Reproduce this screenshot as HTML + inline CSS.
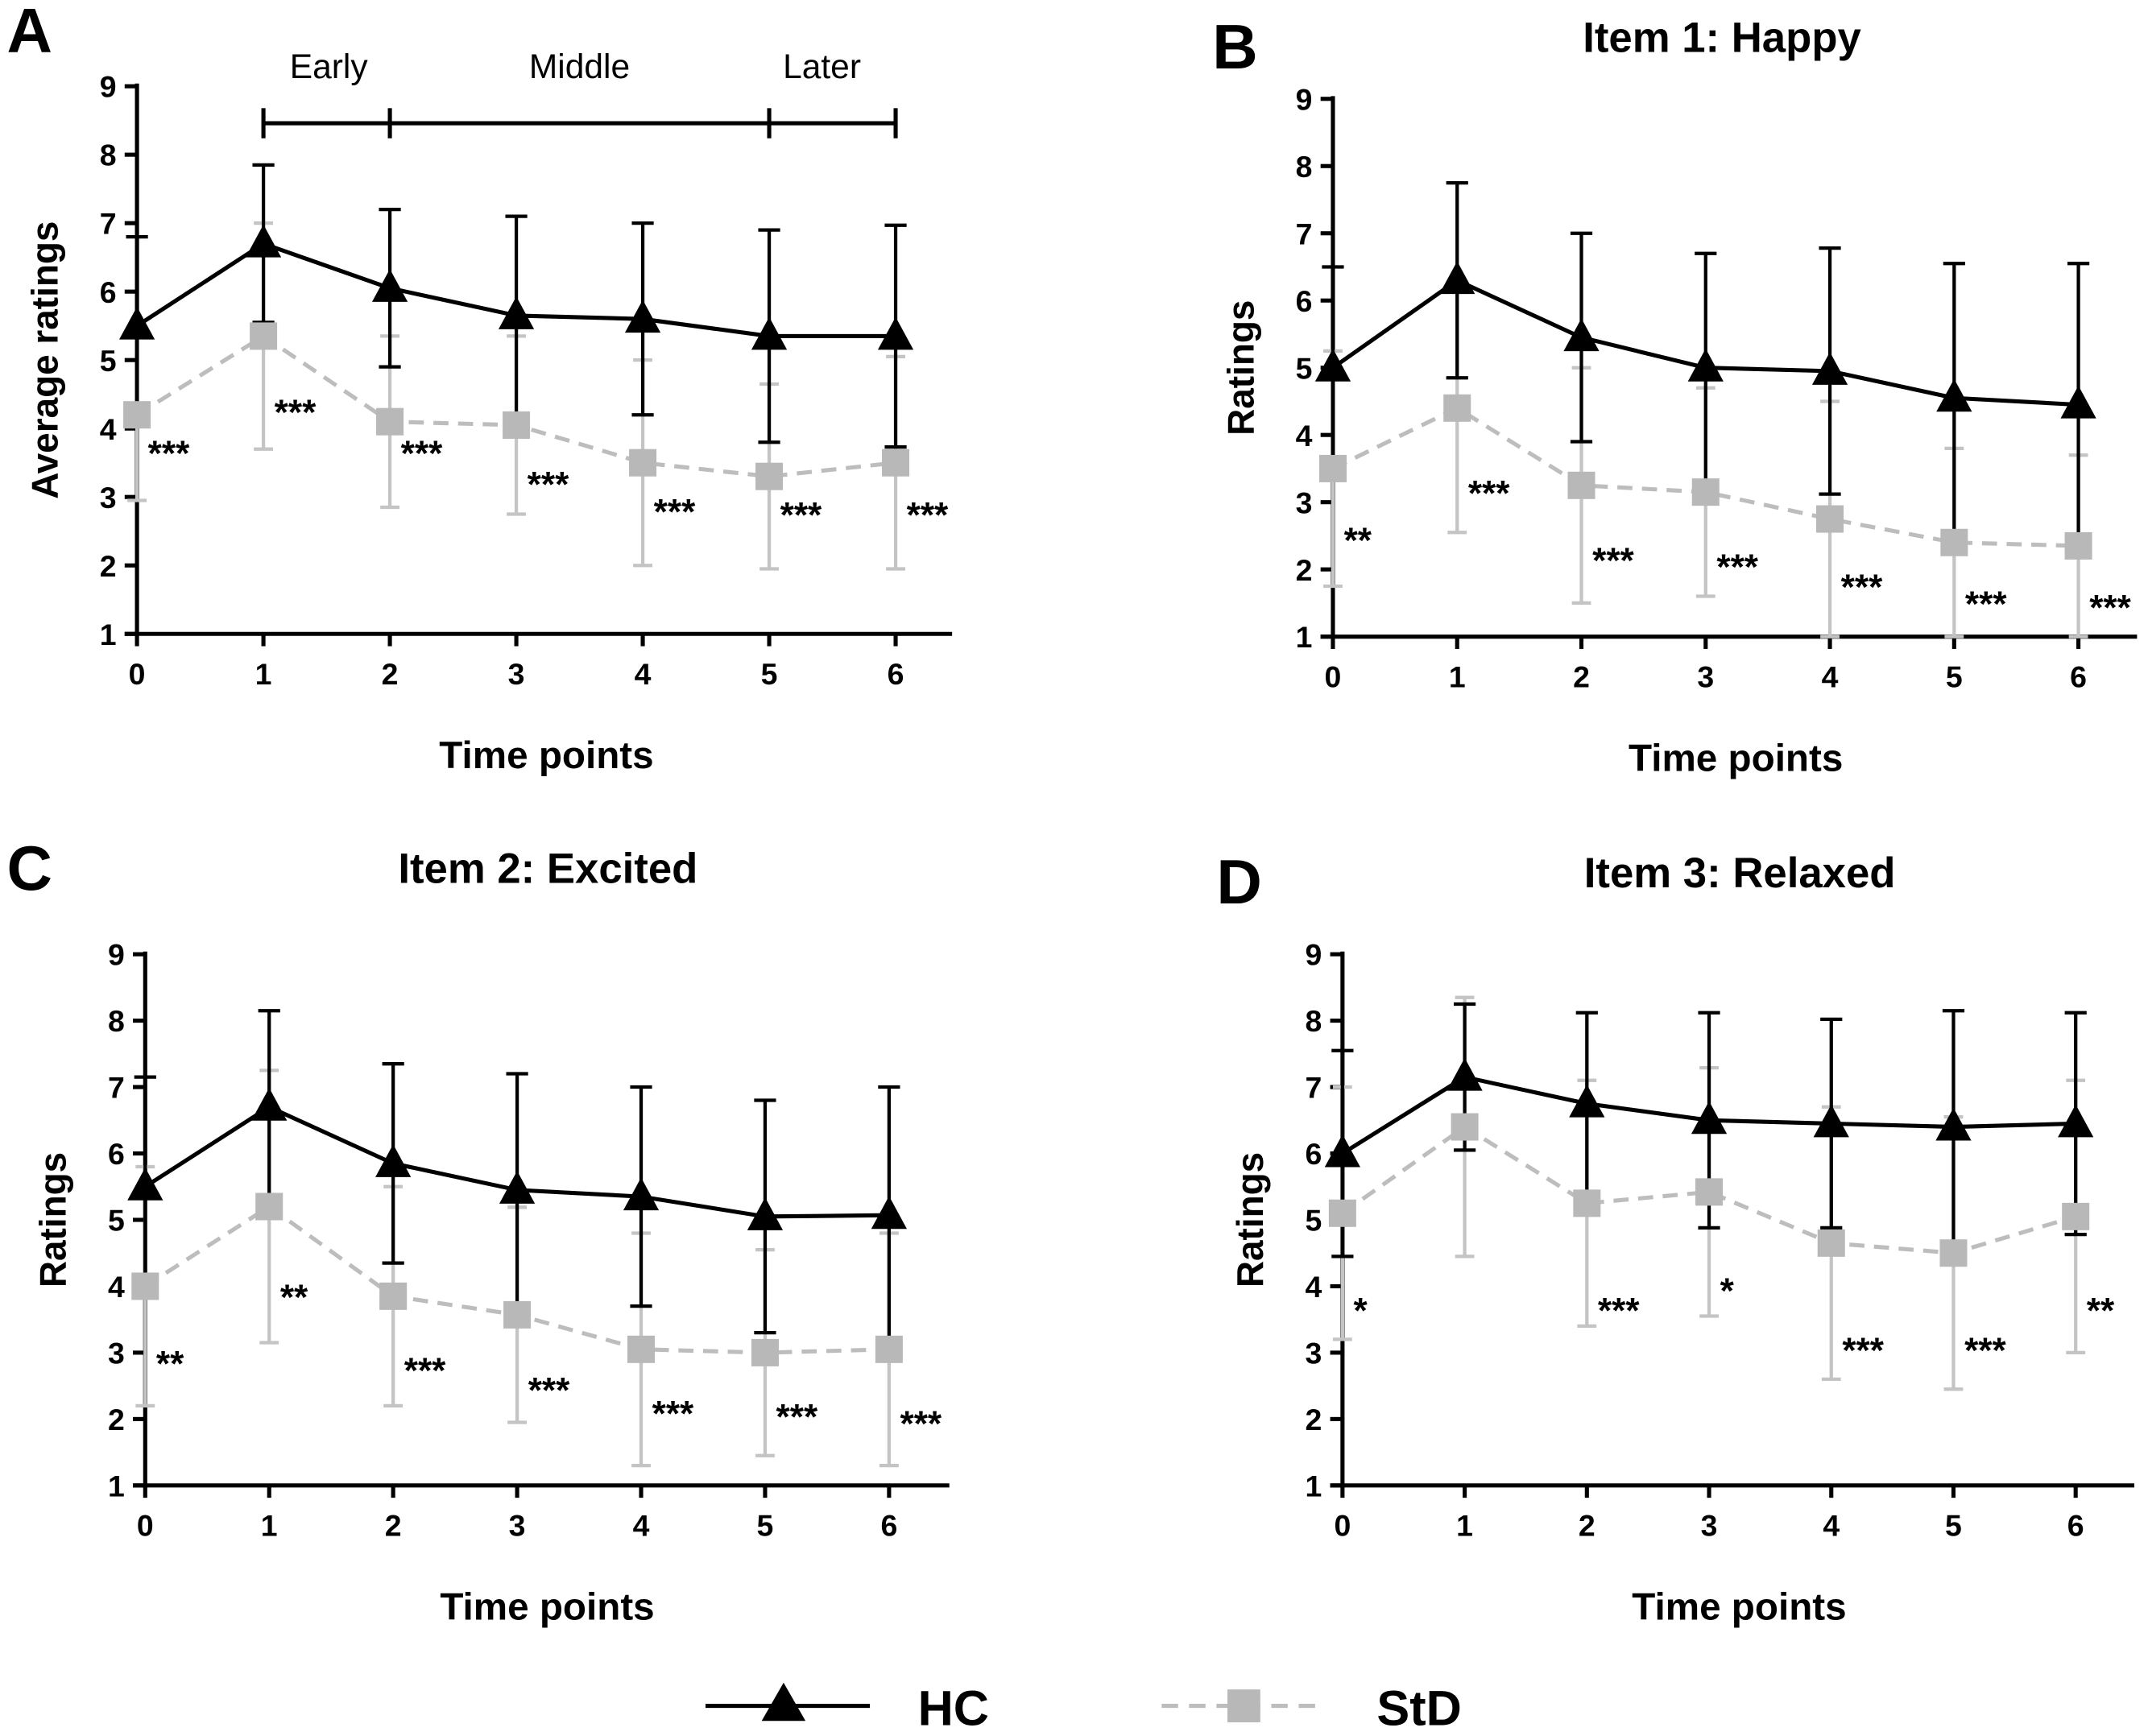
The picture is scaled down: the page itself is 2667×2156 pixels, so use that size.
<!DOCTYPE html>
<html><head><meta charset="utf-8"><style>
html,body{margin:0;padding:0;background:#fff;}
svg{display:block;}
text{font-family:"Liberation Sans",sans-serif;}
</style></head><body>
<svg id="fig" width="2667" height="2156" viewBox="0 0 1568 1268" preserveAspectRatio="none" xmlns="http://www.w3.org/2000/svg"></svg>
<script>
const timePoints = [0,1,2,3,4,5,6];
const yTicks = [1,2,3,4,5,6,7,8,9];
const hcA = [5.5,6.7,6.05,5.65,5.6,5.35,5.35];
const hcSdA = [1.3,1.15,1.15,1.45,1.4,1.55,1.62];
const stdA = [4.2,5.35,4.1,4.05,3.5,3.3,3.5];
const stdSdA = [1.25,1.65,1.25,1.3,1.5,1.35,1.55];
const starsA = ["***","***","***","***","***","***","***"];
const starYA = [3.7,4.3,3.7,3.25,2.85,2.8,2.8];
const hcB = [5.0,6.3,5.45,5.0,4.95,4.55,4.45];
const hcSdB = [1.5,1.45,1.55,1.7,1.83,2.0,2.1];
const stdB = [3.5,4.4,3.25,3.15,2.75,2.4,2.35];
const stdSdB = [1.75,1.85,1.75,1.55,1.75,1.4,1.35];
const starsB = ["**","***","***","***","***","***","***"];
const starYB = [2.5,3.2,2.2,2.1,1.8,1.55,1.5];
const hcC = [5.5,6.7,5.85,5.45,5.35,5.05,5.07];
const hcSdC = [1.65,1.45,1.5,1.75,1.65,1.75,1.93];
const stdC = [4.0,5.2,3.85,3.57,3.05,3.0,3.05];
const stdSdC = [1.8,2.05,1.65,1.62,1.75,1.55,1.75];
const starsC = ["**","**","***","***","***","***","***"];
const starYC = [2.9,3.9,2.8,2.5,2.15,2.1,2.0];
const hcD = [6.0,7.15,6.75,6.5,6.45,6.4,6.45];
const hcSdD = [1.55,1.1,1.37,1.62,1.57,1.75,1.67];
const stdD = [5.1,6.4,5.25,5.42,4.65,4.5,5.05];
const stdSdD = [1.9,1.95,1.85,1.87,2.05,2.05,2.05];
const starsD = ["*","","***","*","***","***","**"];
const starYD = [3.7,0,3.7,4.0,3.1,3.1,3.7];

const svg = document.getElementById('fig');
const NS = 'http://www.w3.org/2000/svg';
function mk(tag, attrs, parent){const e=document.createElementNS(NS,tag);for(const k in attrs)e.setAttribute(k,attrs[k]);(parent||svg).appendChild(e);return e;}
function txt(s, attrs, parent){const e=mk('text',attrs,parent);e.textContent=s;return e;}

function panel(cfg){
  const g = mk('g',{});
  
  
  const x0=cfg.x0, step=cfg.step, yb=cfg.yb, unit=cfg.unit, xEnd=cfg.xEnd;
  const X = t => x0 + t*step;
  const Y = v => yb - (v-1)*unit;
  const ya = mk('line',{x1:x0,y1:Y(9)-2,x2:x0,y2:yb,stroke:'#000','stroke-width':3},g);
   
  const xa = mk('line',{x1:x0-9,y1:yb,x2:xEnd,y2:yb,stroke:'#000','stroke-width':3},g);
   
  yTicks.forEach(v=>{
    mk('line',{x1:x0-9,y1:Y(v),x2:x0,y2:Y(v),stroke:'#000','stroke-width':3},g);
    const t=txt(String(v),{x:x0-15,y:Y(v)+8,'font-size':22,'font-weight':'bold','text-anchor':'end'},g);
     
  });
  timePoints.forEach(tp=>{
    mk('line',{x1:X(tp),y1:yb,x2:X(tp),y2:yb+9,stroke:'#000','stroke-width':3},g);
    const t=txt(String(tp),{x:X(tp),y:yb+37,'font-size':22,'font-weight':'bold','text-anchor':'middle'},g);
     
  });
  const xt=txt('Time points',{x:x0+(X(6)-x0)/2+22,y:yb+98,'font-size':28,'font-weight':'bold','text-anchor':'middle'},g);
   
  const cy=(Y(9)+yb)/2;
  const yt=txt(cfg.ytitle,{x:0,y:0,'font-size':27,'font-weight':'bold','text-anchor':'middle',transform:`translate(${x0-58},${cy}) rotate(-90)`},g);
   
  const lt=txt(cfg.letter,{x:cfg.lx,y:cfg.ly,'font-size':46,'font-weight':'bold'},g);
   
  if(cfg.title){const tt=txt(cfg.title,{x:cfg.tx,y:cfg.ty,'font-size':31,'font-weight':'bold','text-anchor':'middle'},g);
     }
  timePoints.forEach((tp,i)=>{
    const lo=Math.max(1,cfg.std[i]-cfg.stdSd[i]), hi=cfg.std[i]+cfg.stdSd[i];
    const e=mk('path',{d:`M${X(tp)},${Y(lo)}V${Y(hi)}M${X(tp)-7},${Y(lo)}h14M${X(tp)-7},${Y(hi)}h14`,stroke:'#c4c4c4','stroke-width':2.5,fill:'none'},g);
     
  });
  timePoints.forEach((tp,i)=>{
    const lo=cfg.hc[i]-cfg.hcSd[i], hi=cfg.hc[i]+cfg.hcSd[i];
    const e=mk('path',{d:`M${X(tp)},${Y(lo)}V${Y(hi)}M${X(tp)-8},${Y(lo)}h16M${X(tp)-8},${Y(hi)}h16`,stroke:'#000','stroke-width':2.5,fill:'none'},g);
     
  });
  const sl=mk('polyline',{points:timePoints.map((tp,i)=>X(tp)+','+Y(cfg.std[i])).join(' '),stroke:'#bdbdbd','stroke-width':3,fill:'none','stroke-dasharray':'11,7'},g);
   
  timePoints.forEach((tp,i)=>{
    const r=mk('rect',{x:X(tp)-10,y:Y(cfg.std[i])-10,width:20,height:20,fill:'#b8b8b8'},g);
     
  });
  const hl=mk('polyline',{points:timePoints.map((tp,i)=>X(tp)+','+Y(cfg.hc[i])).join(' '),stroke:'#000','stroke-width':3,fill:'none'},g);
   
  timePoints.forEach((tp,i)=>{
    const cx=X(tp), yy=Y(cfg.hc[i]);
    const p=mk('polygon',{points:`${cx},${yy-14} ${cx-13},${yy+10} ${cx+13},${yy+10}`,fill:'#000'},g);
     
  });
  timePoints.forEach((tp,i)=>{
    if(!cfg.stars[i]) return;
    const s=txt(cfg.stars[i],{x:X(tp)+8,y:Y(cfg.starY[i])+12,'font-size':26,'font-weight':'bold'},g);
     
  });
  return {g,X,Y};
}

const pA = panel({name:'panel-a',x0:100,step:92.3,yb:463,unit:50,xEnd:695,hc:hcA,hcSd:hcSdA,std:stdA,stdSd:stdSdA,stars:starsA,starY:starYA,ytitle:'Average ratings',letter:'A',lx:5,ly:38});
const pB = panel({name:'panel-b',x0:973,step:90.7,yb:465,unit:49.1,xEnd:1560,hc:hcB,hcSd:hcSdB,std:stdB,stdSd:stdSdB,stars:starsB,starY:starYB,ytitle:'Ratings',letter:'B',lx:885,ly:50,title:'Item 1: Happy',tx:1257,ty:38});
const pC = panel({name:'panel-c',x0:106,step:90.5,yb:1085,unit:48.5,xEnd:693,hc:hcC,hcSd:hcSdC,std:stdC,stdSd:stdSdC,stars:starsC,starY:starYC,ytitle:'Ratings',letter:'C',lx:5,ly:650,title:'Item 2: Excited',tx:400,ty:645});
const pD = panel({name:'panel-d',x0:980,step:89.2,yb:1085,unit:48.5,xEnd:1558,hc:hcD,hcSd:hcSdD,std:stdD,stdSd:stdSdD,stars:starsD,starY:starYD,ytitle:'Ratings',letter:'D',lx:888,ly:660,title:'Item 3: Relaxed',tx:1270,ty:648});

const br = mk('g',{});


mk('line',{x1:pA.X(1),y1:90,x2:pA.X(6),y2:90,stroke:'#000','stroke-width':3},br);
[1,2,5,6].forEach(t=>mk('line',{x1:pA.X(t),y1:79,x2:pA.X(t),y2:101,stroke:'#000','stroke-width':3},br));
[['Early',240],['Middle',423],['Later',600]].forEach(([s,x])=>{const t=txt(s,{x:x,y:57,'font-size':25,'text-anchor':'middle'},br);
   });

const lg = mk('g',{});


const l1=mk('g',{},lg);
 
mk('line',{x1:515,y1:1246,x2:635,y2:1246,stroke:'#000','stroke-width':3},l1);
mk('polygon',{points:'572,1229 556,1257 588,1257',fill:'#000'},l1);
txt('HC',{x:670,y:1260,'font-size':36,'font-weight':'bold'},l1);
const l2=mk('g',{},lg);
 
mk('line',{x1:848,y1:1246,x2:968,y2:1246,stroke:'#bdbdbd','stroke-width':3,'stroke-dasharray':'12,8'},l2);
mk('rect',{x:896,y:1234,width:24,height:24,fill:'#b8b8b8'},l2);
txt('StD',{x:1005,y:1260,'font-size':36,'font-weight':'bold'},l2);
</script>
</body></html>
